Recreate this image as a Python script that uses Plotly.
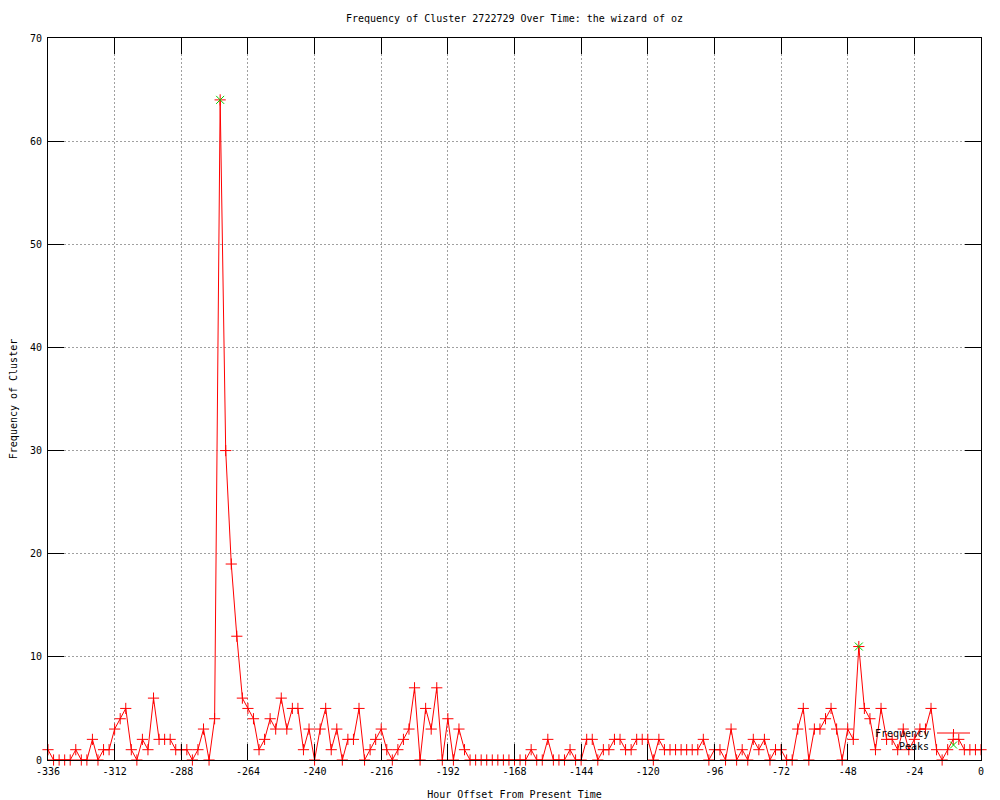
import plotly.graph_objects as go

# Hour offsets (every 2 hours from -336 to 0)
hour_offsets = list(range(-336, 1, 2))

frequency = [
    1, 0, 0, 0, 0, 1, 0, 0, 2, 0,
    1, 1, 3, 4, 5, 1, 0, 2, 1, 6,
    2, 2, 2, 1, 1, 1, 0, 1, 3, 0,
    4, 64, 30, 19, 12, 6, 5, 4, 1, 2,
    4, 3, 6, 3, 5, 5, 1, 3, 0, 3,
    5, 1, 3, 0, 2, 2, 5, 0, 1, 2,
    3, 1, 0, 1, 2, 3, 7, 0, 5, 3,
    7, 0, 4, 0, 3, 1, 0, 0, 0, 0,
    0, 0, 0, 0, 0, 0, 0, 1, 0, 0,
    2, 0, 0, 0, 1, 0, 0, 2, 2, 0,
    1, 1, 2, 2, 1, 1, 2, 2, 2, 0,
    2, 1, 1, 1, 1, 1, 1, 1, 2, 0,
    1, 1, 0, 3, 0, 1, 0, 2, 1, 2,
    0, 1, 1, 0, 0, 3, 5, 0, 3, 3,
    4, 5, 3, 0, 3, 2, 11, 5, 4, 1,
    5, 2, 2, 1, 3, 1, 2, 3, 3, 5,
    1, 0, 1, 2, 2, 1, 1, 1, 1,
]

peak_hours = [-274, -44]
peak_values = [64, 11]

x_ticks = list(range(-336, 1, 24))
y_ticks = list(range(0, 71, 10))

title_text = "Frequency of Cluster 2722729 Over Time: the wizard of oz"
x_title = "Hour Offset From Present Time"
y_title = "Frequency of Cluster"
series_names = ["Frequency", "Peaks"]

RED = "#ff0000"
GREEN = "#00d000"
FONT = "DejaVu Sans Mono"

fig = go.Figure()
fig.add_trace(go.Scatter(
    x=hour_offsets, y=frequency, mode="lines+markers", name=series_names[0],
    line=dict(color=RED, width=1),
    marker=dict(symbol="cross-thin-open", size=8, color=RED, line=dict(color=RED, width=1)),
    cliponaxis=False, showlegend=False,
))
fig.add_trace(go.Scatter(
    x=peak_hours, y=peak_values, mode="markers", name=series_names[1],
    marker=dict(symbol="x-thin-open", size=8, color=GREEN, line=dict(color=GREEN, width=1)),
    cliponaxis=False, showlegend=False,
))

# The page body adds an 8px offset; plot area target on screen: 48..981 x 38..760
OFF = 8
L, R, T, B = 48 - OFF, 981 - OFF, 38 - OFF, 760 - OFF
W, H = 1000, 800

def px(xs):
    return (xs - 48) / (981 - 48)

def py(ys):
    return (760 - ys) / (760 - 38)

shapes = []
# legend samples (paper coordinates)
shapes.append(dict(type="line", xref="paper", yref="paper", x0=px(937), x1=px(970),
                   y0=py(733), y1=py(733), line=dict(color=RED, width=1)))
shapes.append(dict(type="line", xref="paper", yref="paper", x0=px(953.5), x1=px(953.5),
                   y0=py(737), y1=py(729), line=dict(color=RED, width=1)))
shapes.append(dict(type="line", xref="paper", yref="paper", x0=px(950), x1=px(957),
                   y0=py(748.5), y1=py(741.5), line=dict(color=GREEN, width=1)))
shapes.append(dict(type="line", xref="paper", yref="paper", x0=px(950), x1=px(957),
                   y0=py(741.5), y1=py(748.5), line=dict(color=GREEN, width=1)))

annotations = [
    dict(text=series_names[0], xref="paper", yref="paper", x=px(931), y=py(733),
         xanchor="right", yanchor="middle", showarrow=False,
         font=dict(family=FONT, size=10, color="black")),
    dict(text=series_names[1], xref="paper", yref="paper", x=px(931), y=py(746),
         xanchor="right", yanchor="middle", showarrow=False,
         font=dict(family=FONT, size=10, color="black")),
]

axis_common = dict(
    showline=True, linecolor="black", linewidth=1, mirror="allticks",
    ticks="inside", ticklen=16, tickcolor="black", tickwidth=1,
    showgrid=True, gridcolor="#a0a0a0", griddash="2px,2px", gridwidth=1,
    zeroline=False, tickfont=dict(family=FONT, size=10, color="black"),
)

fig.update_layout(
    width=W, height=H,
    margin=dict(l=L, r=W - R, t=T, b=H - B, autoexpand=False),
    paper_bgcolor="white", plot_bgcolor="white",
    font=dict(family=FONT, size=10, color="black"),
    title=dict(text=title_text, x=0.5, xref="paper", y=1 - (18 - OFF) / H, yref="container",
               xanchor="center", yanchor="middle", font=dict(family=FONT, size=10, color="black")),
    xaxis=dict(range=[-336, 0], tickvals=x_ticks, ticktext=[str(v) for v in x_ticks],
               ticklabelstandoff=2,
               title=dict(text=x_title, standoff=14, font=dict(family=FONT, size=10)),
               **axis_common),
    yaxis=dict(range=[0, 70], tickvals=y_ticks, ticklabelstandoff=3,
               title=dict(text=y_title, standoff=14, font=dict(family=FONT, size=10)),
               **axis_common),
    shapes=shapes, annotations=annotations, showlegend=False,
)

fig.write_html("out.html")
